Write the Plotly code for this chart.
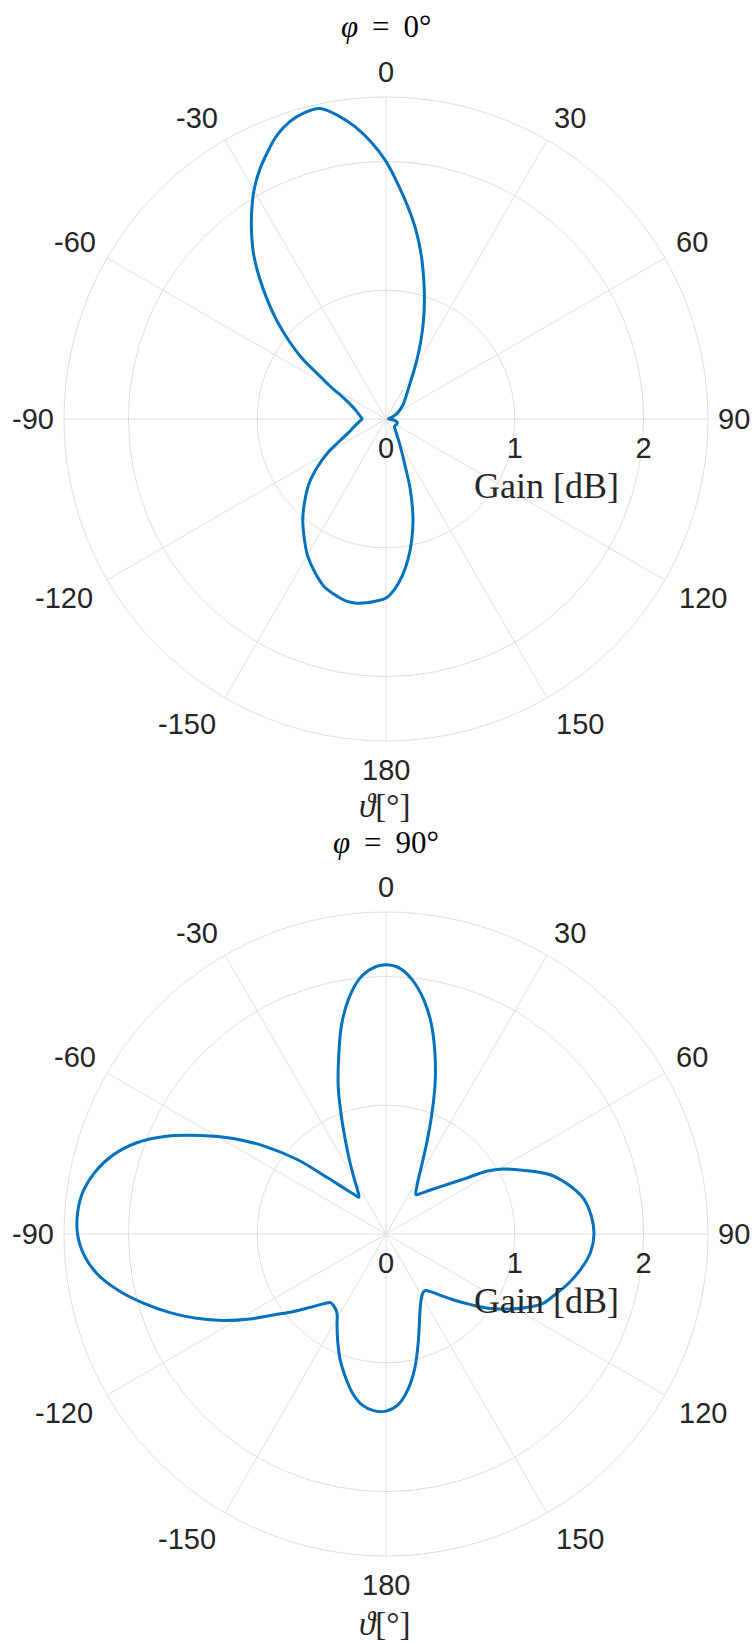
import math
import plotly.graph_objects as go

# Radiation pattern cut at phi = 0 deg: polar angle theta [deg] and gain [dB]
theta_phi0 = [-180, -177, -174, -171, -168, -165, -160, -155, -150, -145, -140, -135,
              -130, -125, -120, -115, -110, -105, -100, -95, -90, -85, -80, -75, -70,
              -65, -62, -60, -57, -54, -51, -48, -45, -42, -39, -36, -33, -30, -27,
              -24, -21, -18, -15, -12, -9, -6, -3, 0, 3, 6, 9, 12, 15, 18, 21, 24, 27,
              30, 33, 36, 40, 45, 50, 55, 60, 65, 70, 75, 80, 85, 90, 95, 100, 105,
              110, 115, 120, 125, 130, 135, 140, 145, 150, 155, 158, 161, 165, 168,
              171, 174, 177, 180]
gain_phi0 = [1.39, 1.415, 1.435, 1.448, 1.448, 1.43, 1.39, 1.31, 1.22, 1.11, 1.005, 0.89,
             0.78, 0.65, 0.52, 0.39, 0.31, 0.265, 0.232, 0.207, 0.186, 0.197, 0.215, 0.238, 0.275,
             0.338, 0.41, 0.488, 0.615, 0.81, 0.975, 1.14, 1.30, 1.465, 1.63, 1.775, 1.915, 2.05,
             2.165, 2.265, 2.36, 2.425, 2.46, 2.465, 2.385, 2.28, 2.15, 2.00, 1.82, 1.65, 1.485,
             1.31, 1.13, 0.965, 0.81, 0.665, 0.54, 0.435, 0.355, 0.30, 0.25, 0.205, 0.172, 0.14,
             0.11, 0.085, 0.06, 0.04, 0.025, 0.02, 0.025, 0.045, 0.07, 0.088, 0.093, 0.092, 0.09,
             0.088, 0.087, 0.095, 0.115, 0.145, 0.20, 0.30, 0.40, 0.58, 0.81, 0.96, 1.10, 1.22,
             1.32, 1.39]

# Radiation pattern cut at phi = 90 deg
theta_phi90 = [-180, -176, -172, -168, -164, -160, -156, -152, -148, -144, -141, -138,
               -134, -130, -126, -122, -118, -114, -110, -106, -102, -98, -94, -90, -86,
               -82, -78, -74, -70, -66, -62, -58, -54, -50, -46, -42, -39, -36.5, -33,
               -30, -27, -24, -21, -18, -15, -12, -9, -6, -3, 0, 3, 6, 9, 12, 15, 18, 21,
               24, 27, 30, 33, 37.4, 41, 45, 50, 55, 58, 61, 65, 70, 75, 80, 85, 90, 95,
               100, 105, 110, 114, 118, 122, 126, 130, 134, 138, 142, 145.5, 148, 152,
               156, 160, 164, 168, 172, 176, 180]
gain_phi90 = [1.375, 1.375, 1.34, 1.26, 1.15, 1.04, 0.92, 0.81, 0.72, 0.69, 0.685, 0.73,
              0.82, 0.935, 1.067, 1.245, 1.43, 1.61, 1.785, 1.955, 2.12, 2.26, 2.35, 2.395, 2.40,
              2.375, 2.31, 2.21, 2.065, 1.865, 1.63, 1.40, 1.155, 0.90, 0.625, 0.468, 0.398, 0.354,
              0.405, 0.49, 0.61, 0.76, 0.96, 1.20, 1.42, 1.66, 1.85, 1.99, 2.065, 2.09, 2.065,
              1.98, 1.85, 1.68, 1.465, 1.235, 0.99, 0.78, 0.62, 0.51, 0.44, 0.384, 0.42, 0.48,
              0.584, 0.75, 0.92, 1.04, 1.17, 1.35, 1.47, 1.56, 1.60, 1.615, 1.595, 1.54, 1.47,
              1.39, 1.33, 1.22, 1.10, 0.98, 0.85, 0.74, 0.645, 0.57, 0.533, 0.54, 0.58, 0.65,
              0.755, 0.90, 1.07, 1.22, 1.33, 1.375]

assert len(theta_phi0) == len(gain_phi0)
assert len(theta_phi90) == len(gain_phi90)

# Angular ticks (theta, degrees) and radial ticks (gain, dB)
theta_ticks = [0, 30, 60, 90, 120, 150, 180, 210, 240, 270, 300, 330]
theta_ticklabels = ["0", "30", "60", "90", "120", "150", "180",
                    "-150", "-120", "-90", "-60", "-30"]
gain_ticks = [0, 1, 2]
gain_range = [0, 2.5]

titles = ["<i>φ</i>\u2009 = \u20090°", "<i>φ</i>\u2009 = \u200990°"]

W, H = 753, 1644
CX, RADIUS = 386, 322          # polar centre x and outer radius, px
CENTERS_Y = [419, 1234]        # polar centre y for the two cuts, px
LINE_BLUE = "#0072BD"
GRID = "#dedede"
TEXT = "#262626"
SANS = "Liberation Sans, Arial, sans-serif"
SERIF = "Liberation Serif, Times New Roman, serif"
TICK_SIZE = 29

fig = go.Figure()
for subplot, th, g in [("polar", theta_phi0, gain_phi0), ("polar2", theta_phi90, gain_phi90)]:
    fig.add_trace(go.Scatterpolar(theta=th, r=g, mode="lines",
                                  line=dict(color=LINE_BLUE, width=3, shape="spline", smoothing=1.0),
                                  subplot=subplot, showlegend=False))


def px_x(x):
    return x / W


def px_y(y):
    return 1 - y / H


def polar_layout(cy):
    return dict(
        domain=dict(x=[px_x(CX - RADIUS), px_x(CX + RADIUS)],
                    y=[px_y(cy + RADIUS), px_y(cy - RADIUS)]),
        bgcolor="white",
        angularaxis=dict(
            rotation=90, direction="clockwise",
            tickmode="array", tickvals=theta_ticks, ticktext=theta_ticklabels,
            showticklabels=False, ticks="",
            showgrid=True, gridcolor=GRID, gridwidth=1,
            showline=True, linecolor=GRID, linewidth=1,
        ),
        radialaxis=dict(
            range=gain_range, tickmode="array", tickvals=gain_ticks,
            angle=0, side="clockwise",
            tickfont=dict(family=SANS, size=TICK_SIZE, color=TEXT),
            ticks="outside", ticklen=4, tickcolor="rgba(0,0,0,0)",
            showgrid=True, gridcolor=GRID, gridwidth=1,
            showline=False,
        ),
    )


fig.update_layout(
    width=W, height=H,
    margin=dict(l=0, r=0, t=0, b=0),
    paper_bgcolor="white",
    polar=polar_layout(CENTERS_Y[0]),
    polar2=polar_layout(CENTERS_Y[1]),
)


def label_width(text, size):
    # Helvetica/Arial advance widths: digits 0.556 em, minus sign 0.333 em
    return size * sum(0.333 if ch == "-" else 0.556 for ch in text)


def sgn(v, eps=1e-9):
    return 0 if abs(v) < eps else (1 if v > 0 else -1)


annotations = []
for cy in CENTERS_Y:
    # each theta label's inner corner sits on a circle just outside the rim
    for tv, tt in zip(theta_ticks, theta_ticklabels):
        a = math.radians(tv)
        s, c = math.sin(a), math.cos(a)
        rc = RADIUS + 10 + 5 * abs(c) + (4 if c < -1e-9 else 0)
        half_w = 0.5 * label_width(tt, TICK_SIZE)
        half_h = 10
        x = CX + rc * s + sgn(s) * half_w
        y = cy - rc * c - sgn(c) * half_h
        annotations.append(dict(text=tt, x=px_x(x), y=px_y(y),
                                xref="paper", yref="paper", showarrow=False,
                                xanchor="center", yanchor="middle",
                                font=dict(family=SANS, size=TICK_SIZE, color=TEXT)))

for title, (ty, gy, vy) in zip(titles, [(27, 486, 806), (842, 1301, 1624)]):
    annotations.append(dict(text=title, x=px_x(CX), y=px_y(ty), xref="paper", yref="paper",
                            showarrow=False, xanchor="center", yanchor="middle",
                            font=dict(family=SERIF, size=31, color="black")))
    annotations.append(dict(text="Gain [dB]", x=px_x(546), y=px_y(gy), xref="paper", yref="paper",
                            showarrow=False, xanchor="center", yanchor="middle",
                            font=dict(family=SERIF, size=36, color=TEXT)))
    annotations.append(dict(text="<i>ϑ</i>[°]", x=px_x(384), y=px_y(vy), xref="paper", yref="paper",
                            showarrow=False, xanchor="center", yanchor="middle",
                            font=dict(family=SERIF, size=33, color=TEXT)))
fig.update_layout(annotations=annotations)

fig.write_html("out.html")
